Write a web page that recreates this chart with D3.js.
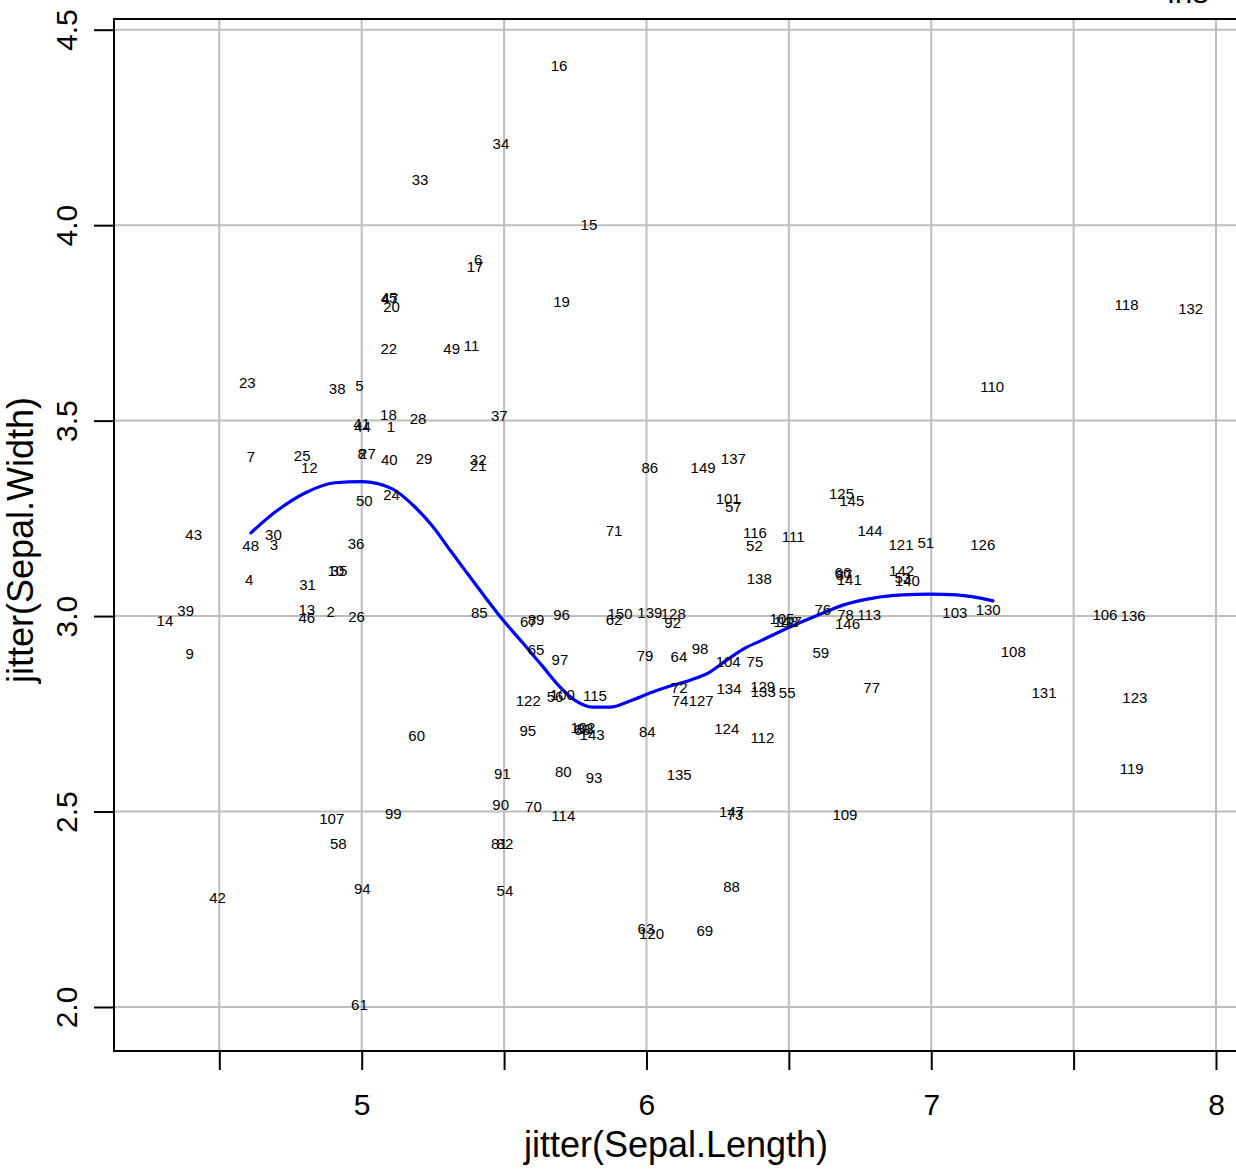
<!DOCTYPE html>
<html>
<head>
<meta charset="utf-8">
<script src="https://cdn.jsdelivr.net/npm/d3@7"></script>
<style>
  html, body { margin: 0; padding: 0; background: #fff; }
  svg { display: block; font-family: "Liberation Sans", Arial, Helvetica, sans-serif; }
</style>
</head>
<body>
<svg id="chart" width="1236" height="1169"></svg>
<script>
// ---- data ----
const labels = d3.range(1, 151);
const sepalLength = [
  5.103,4.891,4.692,4.605,4.992,5.409,4.611,5.000,4.396,4.909,
  5.386,4.816,4.807,4.309,5.798,5.693,5.398,5.094,5.702,5.105,
  5.409,5.095,4.598,5.105,4.791,4.982,5.020,5.198,5.219,4.690,
  4.810,5.409,5.205,5.489,4.920,4.980,5.483,4.914,4.382,5.097,
  5.000,4.494,4.410,5.003,5.096,4.807,5.099,4.610,5.316,5.009,
  6.981,6.379,6.900,5.503,6.494,5.679,6.305,4.918,6.612,5.193,
  4.992,5.886,5.998,6.114,5.612,6.690,5.585,5.774,6.205,5.603,
  5.886,6.115,6.311,6.118,6.381,6.619,6.791,6.699,5.995,5.708,
  5.483,5.503,5.784,6.003,5.413,6.012,6.694,6.299,5.612,5.488,
  5.494,6.092,5.816,5.002,5.583,5.702,5.696,6.188,5.111,5.705,
  6.287,5.777,7.083,6.287,6.476,7.610,4.895,7.288,6.697,7.214,
  6.515,6.407,6.782,5.708,5.819,6.381,6.504,7.686,7.704,6.018,
  6.894,5.585,7.715,6.282,6.685,7.181,6.192,6.094,6.408,7.200,
  7.396,7.911,6.410,6.290,6.115,7.709,6.305,6.396,6.012,6.916,
  6.712,6.896,5.809,6.785,6.721,6.706,6.299,6.490,6.199,5.907
];
const sepalWidth = [
  3.485,3.011,3.182,3.094,3.589,3.911,3.408,3.416,2.905,3.116,
  3.693,3.381,3.016,2.988,4.002,4.408,3.894,3.516,3.804,3.791,
  3.384,3.684,3.596,3.310,3.410,2.998,3.416,3.504,3.404,3.209,
  3.080,3.401,4.116,4.208,3.116,3.186,3.512,3.581,3.014,3.401,
  3.493,2.280,3.209,3.484,3.815,2.997,3.812,3.180,3.683,3.295,
  3.188,3.180,3.099,2.298,2.803,2.793,3.280,2.417,2.906,2.694,
  2.006,2.990,2.201,2.896,2.915,3.110,2.986,2.709,2.195,2.512,
  3.218,2.816,2.491,2.785,2.883,3.016,2.818,3.005,2.898,2.602,
  2.419,2.419,2.711,2.704,3.009,3.381,3.105,2.308,2.992,2.517,
  2.597,2.983,2.586,2.302,2.706,3.003,2.889,2.916,2.494,2.798,
  3.301,2.716,3.010,2.883,2.993,3.005,2.483,2.909,2.491,3.587,
  3.203,2.690,3.003,2.489,2.796,3.214,2.985,3.796,2.611,2.189,
  3.184,2.784,2.792,2.712,3.314,3.184,2.785,3.007,2.819,3.016,
  2.803,3.786,2.807,2.814,2.595,3.001,3.402,3.097,3.009,3.092,
  3.094,3.116,2.698,3.218,3.295,2.980,2.500,2.987,3.381,3.007
];
// smooth (lowess-like) curve
const smoothX = [4.611,4.696,4.801,4.906,5.001,5.106,5.187,5.251,5.310,5.370,5.433,5.496,5.566,5.637,5.696,5.752,5.812,5.872,5.942,6.012,6.083,6.153,6.216,6.283,6.346,6.399,6.504,6.620,6.690,6.796,6.901,6.996,7.090,7.217];
const smoothY = [3.213,3.266,3.315,3.341,3.344,3.326,3.279,3.228,3.169,3.110,3.049,2.990,2.931,2.870,2.819,2.783,2.767,2.767,2.783,2.803,2.821,2.836,2.854,2.888,2.918,2.936,2.972,3.008,3.028,3.046,3.054,3.056,3.054,3.039];
const xTicks = [4.5,5,5.5,6,6.5,7,7.5,8];
const xTickLabels = ["", "5", "", "6", "", "7", "", "8"];
const yTicks = [2.0,2.5,3.0,3.5,4.0,4.5];
const yTickLabels = ["2.0","2.5","3.0","3.5","4.0","4.5"];
const xTitle = "jitter(Sepal.Length)";
const yTitle = "jitter(Sepal.Width)";
const cornerTitle = "iris";

// ---- layout ----
const svg = d3.select("#chart");
const box = {left: 114, top: 19, right: 1237, bottom: 1051};
const x = d3.scaleLinear().domain([5, 8]).range([361.7, 1216]);
const y = d3.scaleLinear().domain([2, 4.5]).range([1007, 29.7]);
const grey = "#bebebe";

// grid
const g = svg.append("g");
g.selectAll("line.vg").data(xTicks).join("line")
  .attr("x1", d => x(d)).attr("x2", d => x(d))
  .attr("y1", box.top).attr("y2", box.bottom)
  .attr("stroke", grey).attr("stroke-width", 2);
g.selectAll("line.hg").data(yTicks).join("line")
  .attr("y1", d => y(d)).attr("y2", d => y(d))
  .attr("x1", box.left).attr("x2", box.right)
  .attr("stroke", grey).attr("stroke-width", 2);

// smooth line
const line = d3.line().x((d, i) => x(smoothX[i])).y((d, i) => y(smoothY[i])).curve(d3.curveMonotoneX);
svg.append("path").datum(smoothX)
  .attr("d", line).attr("fill", "none")
  .attr("stroke", "#0000ff").attr("stroke-width", 3.2)
  .attr("stroke-linejoin", "round").attr("stroke-linecap", "round");

// point labels
svg.append("g").selectAll("text").data(labels).join("text")
  .attr("x", (d, i) => x(sepalLength[i]))
  .attr("y", (d, i) => y(sepalWidth[i]))
  .attr("dy", "0.36em")
  .attr("text-anchor", "middle")
  .attr("font-size", 15)
  .attr("fill", "#000")
  .text(d => d);

// box
svg.append("rect")
  .attr("x", box.left).attr("y", box.top)
  .attr("width", box.right - box.left).attr("height", box.bottom - box.top)
  .attr("fill", "none").attr("stroke", "#000").attr("stroke-width", 2);

// x axis (R-style, drawn through d3 axis)
const xAxis = d3.axisBottom(x).tickValues(xTicks)
  .tickFormat((d, i) => xTickLabels[i]).tickSize(19).tickPadding(24);
const xg = svg.append("g").attr("transform", `translate(0,${box.bottom})`).call(xAxis);
xg.select(".domain").remove();
xg.selectAll(".tick line").attr("stroke", "#000").attr("stroke-width", 2);
xg.selectAll(".tick text").attr("font-size", 30).attr("fill", "#000")
  .attr("font-family", "Liberation Sans, Arial, sans-serif");

// y axis
const yAxis = d3.axisLeft(y).tickValues(yTicks)
  .tickFormat((d, i) => yTickLabels[i]).tickSize(20).tickPadding(0);
const yg = svg.append("g").attr("transform", `translate(${box.left},0)`).call(yAxis);
yg.select(".domain").remove();
yg.selectAll(".tick line").attr("stroke", "#000").attr("stroke-width", 2);
yg.selectAll(".tick text")
  .attr("font-size", 30).attr("fill", "#000")
  .attr("font-family", "Liberation Sans, Arial, sans-serif")
  .attr("text-anchor", "middle")
  .attr("x", null).attr("dy", null)
  .attr("transform", "translate(-37,0) rotate(-90)");

// titles
svg.append("text").attr("x", 676).attr("y", 1157)
  .attr("text-anchor", "middle").attr("font-size", 36).attr("fill", "#000")
  .text(xTitle);
svg.append("text").attr("transform", "translate(33,540) rotate(-90)")
  .attr("text-anchor", "middle").attr("font-size", 36).attr("fill", "#000")
  .text(yTitle);
svg.append("text").attr("x", 1188).attr("y", 3)
  .attr("text-anchor", "middle").attr("font-size", 32).attr("fill", "#000")
  .text(cornerTitle);
</script>
</body>
</html>
